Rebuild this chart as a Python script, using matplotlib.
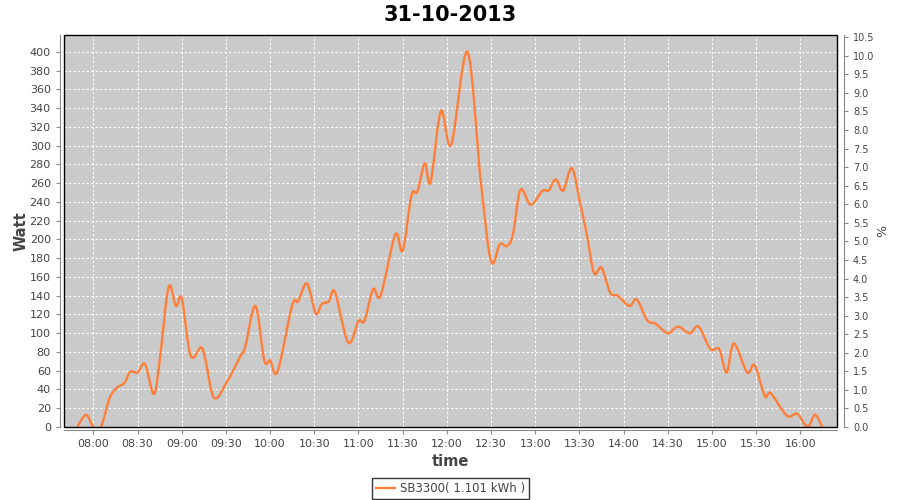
import numpy as np
import pandas as pd
import matplotlib
matplotlib.use("Agg")
import matplotlib.pyplot as plt
import matplotlib.dates as mdates
from matplotlib.patches import Rectangle, PathPatch
from matplotlib.path import Path
from matplotlib.lines import Line2D

# readings of SB3300 on 31-10-2013 (time, Watt)
times = [
    "07:49", "07:55", "08:00", "08:05", "08:11", "08:16", "08:21", "08:25",
    "08:30", "08:35", "08:41", "08:45", "08:51", "08:56", "09:00", "09:06",
    "09:13", "09:16", "09:22", "09:31", "09:40", "09:43", "09:50", "09:56",
    "10:00", "10:05", "10:15", "10:19", "10:25", "10:31", "10:35", "10:40",
    "10:44", "10:53", "11:00", "11:04", "11:10", "11:15", "11:25", "11:30",
    "11:36", "11:40", "11:45", "11:49", "11:56", "12:03", "12:14", "12:23",
    "12:30", "12:36", "12:41", "12:45", "12:50", "12:57", "13:05", "13:09",
    "13:14", "13:19", "13:25", "13:31", "13:35", "13:40", "13:45", "13:51",
    "13:56", "14:04", "14:09", "14:16", "14:22", "14:30", "14:37", "14:45",
    "14:51", "14:59", "15:05", "15:10", "15:15", "15:24", "15:29", "15:36",
    "15:40", "15:51", "15:58", "16:05", "16:10", "16:15",
]
watt = [
    0, 13, 0, 0, 31, 42, 47, 59,
    58, 67, 35, 71, 149, 129, 137, 76,
    85, 72, 31, 49, 76, 85, 129, 71,
    71, 59, 130, 134, 153, 121, 131, 134,
    144, 90, 113, 113, 147, 140, 205, 188,
    247, 251, 281, 261, 337, 301, 400, 263,
    177, 195, 193, 206, 253, 237, 252, 252,
    264, 252, 276, 235, 206, 164, 170, 143,
    140, 129, 136, 114, 110, 100, 107, 100,
    107, 83, 83, 58, 89, 58, 66, 33,
    36, 12, 14, 0, 13, 0,
]
series_label = "SB3300( 1.101 kWh )"
title = "31-10-2013"

t = pd.to_datetime(["2013-10-31 " + s for s in times])

grey = "#444444"
axis_grey = "#888888"
line_color = "#ff7f3a"


def spline_path(x, y):
    # Catmull-Rom curve through the readings, drawn as cubic Bezier segments
    p = np.column_stack([x, y])
    ext = np.vstack([p[0], p, p[-1]])
    verts = [p[0]]
    codes = [Path.MOVETO]
    for i in range(len(p) - 1):
        p0, p1, p2, p3 = ext[i], ext[i + 1], ext[i + 2], ext[i + 3]
        verts += [p1 + (p2 - p0) / 6, p2 - (p3 - p1) / 6, p2]
        codes += [Path.CURVE4] * 3
    return Path(verts, codes)


fig = plt.figure(figsize=(9, 5), dpi=100)
ax = fig.add_axes([64 / 900, 73 / 500, 773 / 900, 392 / 500])
ax.set_facecolor("#cacaca")

ax.add_patch(PathPatch(spline_path(mdates.date2num(t), np.array(watt, float)),
                       facecolor="none", edgecolor=line_color, linewidth=1.7,
                       joinstyle="round", zorder=3))

ax.set_xlim(pd.Timestamp("2013-10-31 07:40"), pd.Timestamp("2013-10-31 16:25"))
ax.set_ylim(0, 418)
ax.set_yticks(range(0, 420, 20))
ax.xaxis.set_major_locator(mdates.MinuteLocator(byminute=[0, 30]))
ax.xaxis.set_major_formatter(mdates.DateFormatter("%H:%M"))

ax.grid(True, color="white", linestyle=(0, (2, 2)), linewidth=0.8)
ax.set_axisbelow(True)

for side in ["top", "right"]:
    ax.spines[side].set_visible(False)
ax.spines["left"].set_position(("outward", 3))
ax.spines["bottom"].set_position(("outward", 2))
for side in ["left", "bottom"]:
    ax.spines[side].set_color(axis_grey)
ax.tick_params(colors=grey, labelsize=8, length=3, width=0.8)
ax.tick_params(axis="both", color=axis_grey)

# plot outline
ax.add_patch(Rectangle((0, 0), 1, 1, transform=ax.transAxes, fill=False,
                       edgecolor="black", linewidth=1.0, clip_on=False, zorder=5))

ax.set_ylabel("Watt", fontsize=10.5, fontweight="bold", color=grey, labelpad=1)
ax.set_xlabel("time", fontsize=10.5, fontweight="bold", color=grey, labelpad=4)

ax2 = ax.twinx()
ax2.set_ylim(0, 10.56)
ax2.set_yticks([i * 0.5 for i in range(22)])
ax2.yaxis.set_major_formatter(matplotlib.ticker.FormatStrFormatter("%.1f"))
for side in ["top", "left", "bottom"]:
    ax2.spines[side].set_visible(False)
ax2.spines["right"].set_position(("outward", 5))
ax2.spines["right"].set_color(axis_grey)
ax2.tick_params(colors=grey, labelsize=7, length=3, width=0.8)
ax2.tick_params(axis="y", color=axis_grey)
ax2.set_ylabel("%", fontsize=9, color=grey, labelpad=8, rotation=-90)

fig.suptitle(title, fontsize=15, fontweight="bold", color="black", y=0.99)

handle = Line2D([], [], color=line_color, linewidth=1.7)
leg = ax.legend([handle], [series_label], loc="upper center",
                bbox_to_anchor=(0.5, -0.115), frameon=True, fancybox=False,
                fontsize=8.5, handlelength=1.6, borderpad=0.35,
                handletextpad=0.4)
leg.get_frame().set_edgecolor("black")
leg.get_frame().set_linewidth(1.0)
for txt in leg.get_texts():
    txt.set_color(grey)

fig.savefig("out.png", dpi=100, facecolor="white")
